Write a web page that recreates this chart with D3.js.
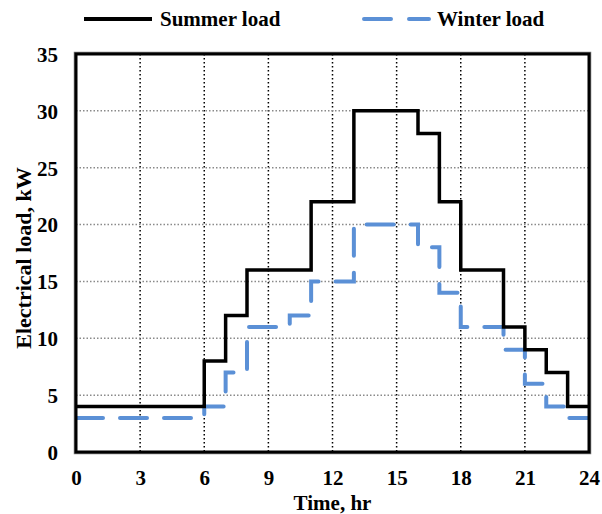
<!DOCTYPE html>
<html><head><meta charset="utf-8">
<script src="https://cdn.jsdelivr.net/npm/d3@7"></script>
<style>body{margin:0;background:#fff}</style>
</head><body>
<svg id="c" width="602" height="514"></svg>
<script>
const hours = [0,1,2,3,4,5,6,7,8,9,10,11,12,13,14,15,16,17,18,19,20,21,22,23];
const summerLoad = [4,4,4,4,4,4,8,12,16,16,16,22,22,30,30,30,28,22,16,16,11,9,7,4];
const winterLoad = [3,3,3,3,3,3,4,7,11,11,12,15,15,20,20,20,18,14,11,11,9,6,4,3];
const xTicks = [0,3,6,9,12,15,18,21,24];
const yTicks = [0,5,10,15,20,25,30,35];
const seriesNames = ["Summer load","Winter load"];

const svg = d3.select("#c");
const L=76,R=589,T=54,B=452;
const x = d3.scaleLinear().domain([0,24]).range([L,R]);
const y = d3.scaleLinear().domain([0,35]).range([B,T]);
const font = "'Liberation Serif','Times New Roman',serif";

// grid
svg.append("g").selectAll("line").data(xTicks.slice(1,-1)).join("line")
  .attr("x1",d=>x(d)).attr("x2",d=>x(d)).attr("y1",T).attr("y2",B)
  .attr("stroke","#000").attr("stroke-width",1.5).attr("stroke-dasharray","1.5,2.5");
svg.append("g").selectAll("line").data(yTicks.slice(1,-1)).join("line")
  .attr("y1",d=>y(d)).attr("y2",d=>y(d)).attr("x1",L).attr("x2",R)
  .attr("stroke","#8a8a8a").attr("stroke-width",1.5).attr("stroke-dasharray","1.5,2");

const line = d3.line().x(d=>x(d[0])).y(d=>y(d[1])).curve(d3.curveStepAfter);
const pts = arr => hours.map((h,i)=>[h,arr[i]]).concat([[24,arr[arr.length-1]]]);

svg.append("path").attr("d",line(pts(winterLoad))).attr("fill","none")
  .attr("stroke","#5b90d6").attr("stroke-width",4).attr("stroke-linecap","round")
  .attr("stroke-dasharray","27,17");
svg.append("path").attr("d",line(pts(summerLoad))).attr("fill","none")
  .attr("stroke","#000").attr("stroke-width",3.5);

// border
svg.append("rect").attr("x",L-1.5).attr("y",T-1.5).attr("width",R-L+3).attr("height",B-T+3)
  .attr("fill","none").attr("stroke","#777").attr("stroke-width",1.5);
svg.append("rect").attr("x",L).attr("y",T).attr("width",R-L).attr("height",B-T)
  .attr("fill","none").attr("stroke","#000").attr("stroke-width",3);

// axes labels
const xa = svg.append("g").attr("transform",`translate(0,${B})`)
  .call(d3.axisBottom(x).tickValues(xTicks).tickSize(0).tickFormat(d3.format("d")));
xa.select(".domain").remove();
xa.selectAll("text").attr("font-family",font).attr("font-weight","bold")
  .attr("font-size",21).attr("fill","#000").attr("y",33).attr("dy",0);
const ya = svg.append("g").attr("transform",`translate(${L},0)`)
  .call(d3.axisLeft(y).tickValues(yTicks).tickSize(0).tickFormat(d3.format("d")));
ya.select(".domain").remove();
ya.selectAll("text").attr("font-family",font).attr("font-weight","bold")
  .attr("font-size",21).attr("fill","#000").attr("dy","0.35em").attr("x",-18);

svg.append("text").attr("x",(L+R)/2).attr("y",510).attr("text-anchor","middle")
  .attr("font-family",font).attr("font-weight","bold").attr("font-size",21).text("Time, hr");
svg.append("text").attr("transform",`translate(31,258) rotate(-90)`).attr("text-anchor","middle")
  .attr("font-family",font).attr("font-weight","bold").attr("font-size",22).text("Electrical load, kW");

// legend
const lg = svg.append("g");
lg.append("line").attr("x1",84).attr("x2",152).attr("y1",19).attr("y2",19)
  .attr("stroke","#000").attr("stroke-width",4);
lg.append("text").attr("x",160).attr("y",26).attr("font-family",font).attr("font-weight","bold")
  .attr("font-size",21).text(seriesNames[0]);
lg.append("line").attr("x1",364).attr("x2",429).attr("y1",19).attr("y2",19)
  .attr("stroke","#5b90d6").attr("stroke-width",4).attr("stroke-linecap","round")
  .attr("stroke-dasharray","27,18");
lg.append("text").attr("x",437).attr("y",26).attr("font-family",font).attr("font-weight","bold")
  .attr("font-size",21).text(seriesNames[1]);
</script>
</body></html>
